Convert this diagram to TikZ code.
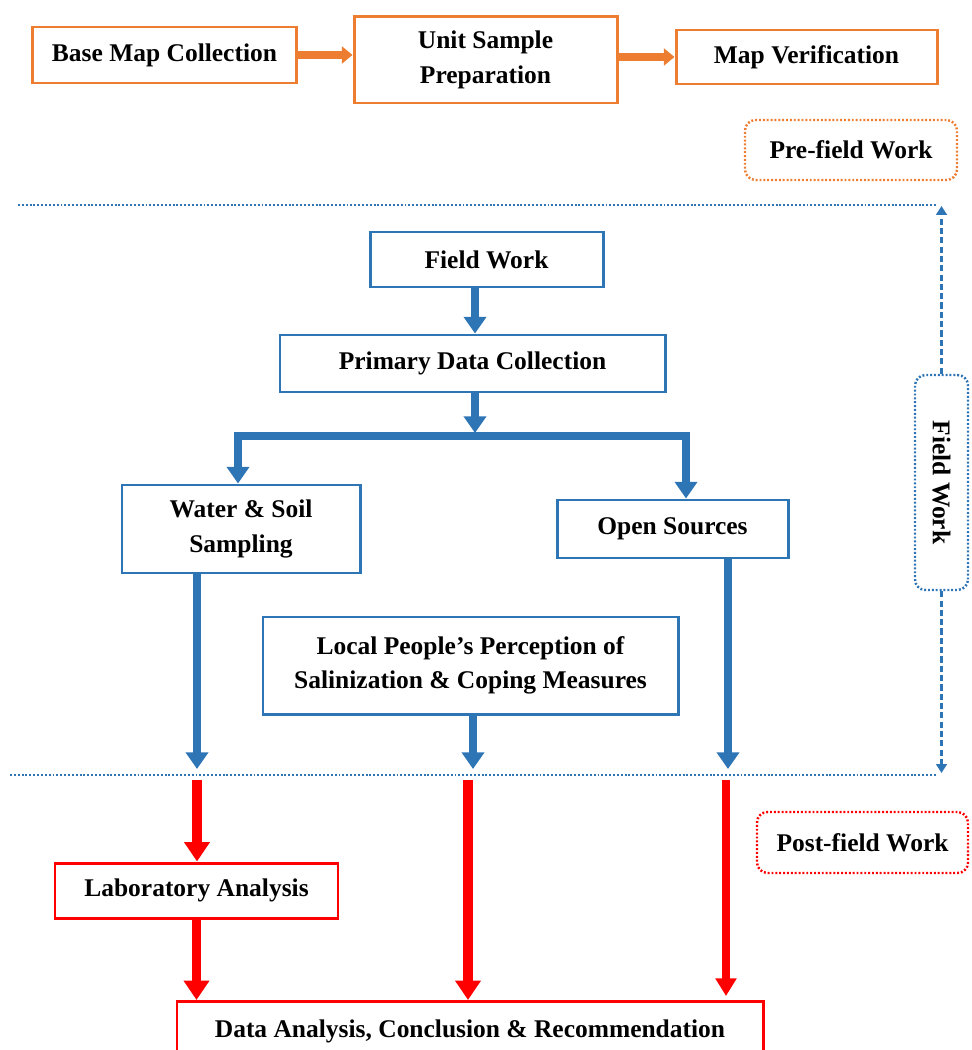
\documentclass[tikz,border=0pt]{standalone}
\usepackage{fontspec}
\setmainfont{Liberation Serif}
\usetikzlibrary{arrows.meta}
\definecolor{cblue}{RGB}{46,117,182}
\definecolor{corange}{RGB}{237,125,49}
\definecolor{cred}{RGB}{255,0,0}
\def\pxu{0.02cm}
\tikzset{
  lbl/.style={font=\fontsize{14.5}{19.5}\selectfont\bfseries, align=center, inner sep=0pt, text=black},
  obox/.style={lbl, draw=corange, line width=1.7pt, fill=white},
  bbox/.style={lbl, draw=cblue, line width=1.7pt, fill=white},
  rbox/.style={lbl, draw=cred, line width=1.7pt, fill=white},
  odot/.style={lbl, draw=corange, line width=1.4pt, dash pattern=on 1.1pt off 1.1pt, rounded corners=6pt},
  bdot/.style={lbl, draw=cblue, line width=1.4pt, dash pattern=on 1.1pt off 1.1pt, rounded corners=6pt},
  rdot/.style={lbl, draw=cred, line width=1.4pt, dash pattern=on 1.1pt off 1.1pt, rounded corners=6pt},
  oarrow/.style={draw=corange, line width=4.3pt, -{Triangle[width=9.5pt,length=6pt]}},
  barrow/.style={draw=cblue, line width=4.5pt, -{Triangle[width=12.5pt,length=9.5pt]}},
  rarrow/.style={draw=cred, line width=5.4pt, -{Triangle[width=14pt,length=11pt]}},
  rarrowthin/.style={draw=cred, line width=4pt, -{Triangle[width=11.5pt,length=10pt]}},
  bline/.style={draw=cblue, line width=1.6pt, dash pattern=on 1.1pt off 1.1pt},
  bdash/.style={draw=cblue, line width=1.5pt, dash pattern=on 3.5pt off 1.8pt, -{Triangle[width=6pt,length=5pt]}},
}
\begin{document}
\begin{tikzpicture}[x=0.02cm, y=-0.02cm]
\useasboundingbox (0,0) rectangle (972,1050);
% pre-field boxes
\node[obox, minimum width=264*\pxu, minimum height=56*\pxu] (base) at (164.5,55) {Base Map Collection};
\node[obox, minimum width=263*\pxu, minimum height=86*\pxu] (unit) at (485.5,60) {Unit Sample\\Preparation};
\node[obox, minimum width=261*\pxu, minimum height=54*\pxu] (mapv) at (806.5,57) {Map Verification};
\node[odot, minimum width=212*\pxu, minimum height=60*\pxu] (pre) at (851,150) {Pre-field Work};
\draw[oarrow] (base.east) -- (unit.west |- base.east);
\draw[oarrow] (unit.east |- mapv.west) -- (mapv.west);
% field boundaries
\coordinate (topL) at (18,205);
\coordinate (topR) at (936,205);
\coordinate (botL) at (10,775);
\coordinate (botR) at (936,775);
\draw[bline] (topL) -- (topR);
\draw[bline] (botL) -- (botR);
\node[bdot, rotate=-90, minimum width=215*\pxu, minimum height=53*\pxu] (fwside) at (941.5,482.5) {Field Work};
\coordinate (fwtop) at (941.5,206);
\coordinate (fwbot) at (941.5,773);
\draw[bdash] (fwside.west) -- (fwtop);
\draw[bdash] (fwside.east) -- (fwbot);
% field work boxes
\node[bbox, minimum width=233*\pxu, minimum height=55*\pxu] (fw) at (486.5,259.5) {Field Work};
\node[bbox, minimum width=385*\pxu, minimum height=57*\pxu] (prim) at (472.5,363.5) {Primary Data Collection};
\node[bbox, minimum width=238*\pxu, minimum height=88*\pxu] (water) at (241,529) {Water \& Soil\\Sampling};
\node[bbox, minimum width=231*\pxu, minimum height=58*\pxu] (open) at (672.5,529) {Open Sources};
\node[bbox, minimum width=415*\pxu, minimum height=97*\pxu] (local) at (470.5,665.5) {Local People’s Perception of\\Salinization \& Coping Measures};
\coordinate (split) at (475,433);
\coordinate (bl) at (238,436);
\coordinate (br) at (686,436);
\draw[barrow] (split |- fw.south) -- (split |- prim.north);
\draw[barrow] (split |- prim.south) -- (split);
\draw[draw=cblue, line width=4.5pt, line join=miter, {Triangle[width=12.5pt,length=9.5pt]}-{Triangle[width=12.5pt,length=9.5pt]}]
  (bl |- water.north) -- (bl) -- (br) -- (br |- open.north);
\coordinate (cL) at (197,769);
\coordinate (cM) at (473,769);
\coordinate (cR) at (728,769);
\draw[barrow] (cL |- water.south) -- (cL);
\draw[barrow] (cM |- local.south) -- (cM);
\draw[barrow] (cR |- open.south) -- (cR);
% post-field
\node[rdot, minimum width=211*\pxu, minimum height=61*\pxu] (post) at (862.5,842.5) {Post-field Work};
\node[rbox, minimum width=283*\pxu, minimum height=55*\pxu] (lab) at (196.5,890.5) {Laboratory Analysis};
\node[rbox, minimum width=586*\pxu, minimum height=60*\pxu, anchor=north] (data) at (470,1000) {Data Analysis, Conclusion \& Recommendation};
\coordinate (rL) at (197,780);
\coordinate (rM) at (468,780);
\coordinate (rR) at (726,780);
\coordinate (rRe) at (726,996);
\draw[rarrow] (rL) -- (rL |- lab.north);
\draw[rarrow] (lab.south) -- (lab.south |- data.north);
\draw[rarrow] (rM) -- (rM |- data.north);
\draw[rarrowthin] (rR) -- (rRe);
\end{tikzpicture}
\end{document}
